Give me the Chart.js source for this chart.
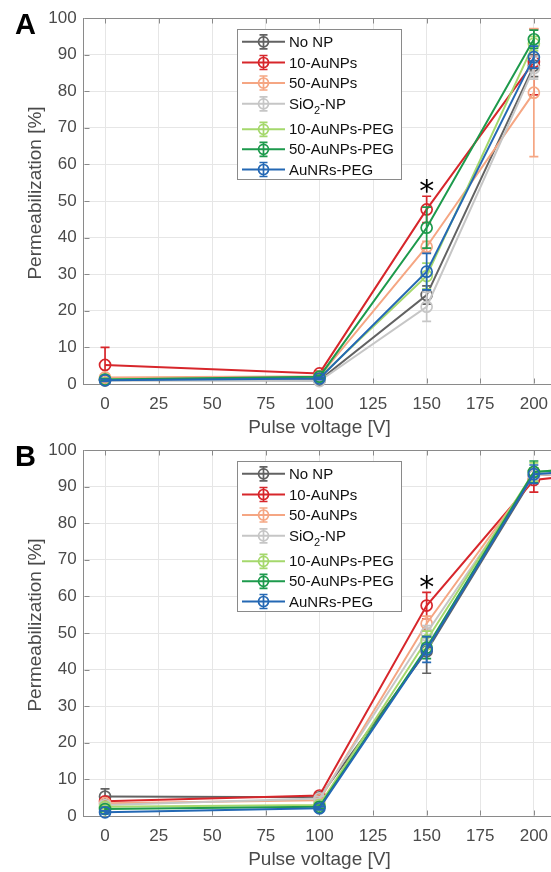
<!DOCTYPE html>
<html><head><meta charset="utf-8">
<script src="https://cdn.jsdelivr.net/npm/chart.js@4.4.0/dist/chart.umd.min.js"></script>
<style>
html,body{margin:0;padding:0;background:#fff;width:551px;height:872px;overflow:hidden;position:relative}
.wrap{position:absolute;left:0;width:590px;height:440px}
canvas{display:block}
</style></head><body>
<div class="wrap" style="top:0"><canvas id="cA" width="590" height="440"></canvas></div>
<div class="wrap" style="top:432px"><canvas id="cB" width="590" height="440"></canvas></div>
<script>
// ---------- data ----------
const seriesNames = ['No NP','10-AuNPs','50-AuNPs','SiO2-NP','10-AuNPs-PEG','50-AuNPs-PEG','AuNRs-PEG'];
const seriesColors = ['#626262','#d7262b','#f5a683','#c6c6c6','#a5d86c','#1d9a4c','#2468b4'];
const xTickValues = [0,25,50,75,100,125,150,175,200];
const yTickValues = [0,10,20,30,40,50,60,70,80,90,100];
const xTitle = 'Pulse voltage [V]';
const yTitle = 'Permeabilization [%]';

// Panel A
const voltagesA = [0,100,150,200];
const A_noNP      = [1.0, 1.0, 24.3, 87.0];
const A_noNP_err  = [0.3, 0.4, 2.5, 3.0];
const A_au10      = [5.2, 2.9, 47.7, 88.0];
const A_au10_err  = [4.8, 0.6, 3.6, 9.0];
const A_au50      = [1.8, 2.1, 37.5, 79.6];
const A_au50_err  = [0.4, 0.5, 1.5, 17.5];
const A_sio2      = [1.2, 0.8, 21.1, 86.3];
const A_sio2_err  = [0.3, 0.3, 4.0, 3.0];
const A_au10peg     = [1.3, 1.8, 29.5, 93.0];
const A_au10peg_err = [0.3, 0.4, 3.5, 2.0];
const A_au50peg     = [1.2, 2.0, 42.7, 94.2];
const A_au50peg_err = [0.3, 0.4, 5.6, 2.5];
const A_aunr      = [1.0, 1.5, 30.7, 89.3];
const A_aunr_err  = [0.3, 0.3, 5.0, 3.0];
const A_starX = [150];
const A_starY = [54];

// Panel B
const voltagesB = [0,100,150,200,250];
const B_noNP      = [5.3, 5.1, 45.0, 93.0, 95.0];
const B_noNP_err  = [2.1, 0.6, 6.0, 2.0, 2.0];
const B_au10      = [4.0, 5.6, 57.5, 91.8, 95.0];
const B_au10_err  = [0.5, 0.5, 3.6, 3.3, 2.0];
const B_au50      = [3.5, 4.3, 52.6, 93.0, 95.5];
const B_au50_err  = [0.5, 0.5, 2.0, 2.0, 2.0];
const B_sio2      = [3.0, 4.8, 50.0, 93.0, 95.5];
const B_sio2_err  = [0.5, 0.5, 2.0, 2.0, 2.0];
const B_au10peg     = [2.5, 3.0, 48.0, 94.0, 96.0];
const B_au10peg_err = [0.5, 0.5, 2.5, 2.5, 2.0];
const B_au50peg     = [1.9, 2.5, 46.0, 94.0, 96.0];
const B_au50peg_err = [0.5, 0.5, 3.0, 3.0, 2.0];
const B_aunr      = [1.0, 2.1, 45.5, 93.4, 95.5];
const B_aunr_err  = [0.4, 0.4, 3.5, 2.5, 2.0];
const B_starX = [150];
const B_starY = [64];

// ---------- styling ----------
const FONT = "'Liberation Sans', Arial, Helvetica, sans-serif";
const TEXT_COLOR = '#4a4a4a';
const AXIS_COLOR = '#8a8a8a';
const GRID_COLOR = '#e6e6e6';
const legendRows = [12.3, 33, 53.5, 74.3, 99.8, 119.8, 140];

function makeDatasets(xs, series, errs) {
  return series.map((vals, i) => ({
    label: seriesNames[i],
    data: vals.map((v, j) => ({x: xs[j], y: v})),
    errors: errs[i],
    borderColor: seriesColors[i],
    pointBorderColor: seriesColors[i],
    backgroundColor: 'rgba(0,0,0,0)',
    pointBackgroundColor: 'rgba(0,0,0,0)',
    borderWidth: 2,
    pointRadius: 5.5,
    pointBorderWidth: 1.7,
    pointHoverRadius: 5.5,
    tension: 0,
    clip: false,
    order: series.length - i
  }));
}

const errorBarPlugin = {
  id: 'errbars',
  afterDatasetDraw(chart, args) {
    const ds = chart.data.datasets[args.index];
    if (!ds.errors) return;
    const ctx = chart.ctx, ys = chart.scales.y;
    ctx.save();
    ctx.strokeStyle = ds.borderColor;
    ctx.lineWidth = 1.7;
    args.meta.data.forEach((pt, i) => {
      const e = ds.errors[i];
      if (e == null) return;
      const v = ds.data[i].y;
      const yt = ys.getPixelForValue(v + e), yb = ys.getPixelForValue(v - e);
      const x = pt.x;
      ctx.beginPath();
      ctx.moveTo(x, yt); ctx.lineTo(x, yb);
      ctx.moveTo(x - 4.5, yt); ctx.lineTo(x + 4.5, yt);
      ctx.moveTo(x - 4.5, yb); ctx.lineTo(x + 4.5, yb);
      ctx.stroke();
    });
    ctx.restore();
  }
};

const boxPlugin = {
  id: 'box',
  beforeDatasetsDraw(chart) {
    const ctx = chart.ctx, a = chart.chartArea;
    const xs = chart.scales.x, ys = chart.scales.y;
    ctx.save();
    ctx.strokeStyle = AXIS_COLOR;
    ctx.lineWidth = 1;
    ctx.beginPath();
    const top = Math.round(a.top) + 0.5, bot = Math.round(a.bottom) - 0.5, left = Math.round(a.left) + 0.5;
    ctx.moveTo(left, top); ctx.lineTo(a.right + 40, top);
    xTickValues.forEach(v => {
      const x = Math.round(xs.getPixelForValue(v)) + 0.5;
      ctx.moveTo(x, bot); ctx.lineTo(x, bot - 5);
      ctx.moveTo(x, top); ctx.lineTo(x, top + 5);
    });
    yTickValues.forEach(v => {
      const y = Math.round(ys.getPixelForValue(v)) + 0.5;
      ctx.moveTo(left, y); ctx.lineTo(left + 5, y);
    });
    ctx.stroke();
    ctx.restore();
  }
};

function drawLabelWithSub(ctx, text, x, y) {
  if (text === 'SiO2-NP') {
    ctx.fillText('SiO', x, y);
    let w = ctx.measureText('SiO').width;
    ctx.save();
    ctx.font = '11px ' + FONT;
    ctx.fillText('2', x + w, y + 6);
    const w2 = ctx.measureText('2').width;
    ctx.restore();
    ctx.fillText('-NP', x + w + w2, y);
  } else {
    ctx.fillText(text, x, y);
  }
}

function makeOverlayPlugin(letter, starX, starY) {
  return {
    id: 'overlay',
    afterDraw(chart) {
      const ctx = chart.ctx, xs = chart.scales.x, ys = chart.scales.y;
      ctx.save();
      // y axis title
      ctx.save();
      ctx.translate(36, 193);
      ctx.rotate(-Math.PI / 2);
      ctx.font = '19px ' + FONT;
      ctx.fillStyle = TEXT_COLOR;
      ctx.textAlign = 'center';
      ctx.textBaseline = 'middle';
      ctx.fillText(yTitle, 0, 0);
      ctx.restore();
      // panel letter
      ctx.fillStyle = '#000';
      ctx.font = 'bold 29px ' + FONT;
      ctx.textBaseline = 'alphabetic';
      ctx.textAlign = 'left';
      ctx.fillText(letter, 15, 34);
      // asterisks
      ctx.font = "30px 'DejaVu Sans', sans-serif";
      starX.forEach((sx, i) => {
        const m = ctx.measureText('*');
        const px = xs.getPixelForValue(sx), py = ys.getPixelForValue(starY[i]);
        const cy = py + (m.actualBoundingBoxAscent - m.actualBoundingBoxDescent) / 2;
        ctx.textAlign = 'center';
        ctx.fillText('*', px, cy);
      });
      // legend
      const L = 237, T = 29.5, W = 164, H = 150;
      ctx.fillStyle = '#fff';
      ctx.fillRect(L, T, W, H);
      ctx.strokeStyle = AXIS_COLOR;
      ctx.lineWidth = 1;
      ctx.strokeRect(L + 0.5, T, W, H);
      ctx.font = '15px ' + FONT;
      ctx.textAlign = 'left';
      ctx.textBaseline = 'middle';
      seriesNames.forEach((name, i) => {
        const y = T + legendRows[i];
        const c = seriesColors[i];
        ctx.strokeStyle = c;
        ctx.lineWidth = 2;
        ctx.beginPath();
        ctx.moveTo(L + 5, y); ctx.lineTo(L + 48, y);
        ctx.stroke();
        ctx.lineWidth = 1.7;
        const mx = L + 26.5;
        ctx.beginPath();
        ctx.moveTo(mx, y - 7); ctx.lineTo(mx, y + 7);
        ctx.moveTo(mx - 4, y - 7); ctx.lineTo(mx + 4, y - 7);
        ctx.moveTo(mx - 4, y + 7); ctx.lineTo(mx + 4, y + 7);
        ctx.stroke();
        ctx.beginPath();
        ctx.arc(mx, y, 5, 0, Math.PI * 2);
        ctx.stroke();
        ctx.fillStyle = '#111';
        drawLabelWithSub(ctx, name, L + 52, y + 1);
      });
      ctx.restore();
    }
  };
}

function makeChart(id, letter, xs, series, errs, starX, starY) {
  return new Chart(document.getElementById(id), {
    type: 'line',
    data: { datasets: makeDatasets(xs, series, errs) },
    options: {
      responsive: false,
      animation: false,
      devicePixelRatio: 1,
      events: [],
      layout: { padding: { top: 18, right: 34.7, left: 0, bottom: 0 } },
      plugins: { legend: { display: false }, tooltip: { enabled: false } },
      scales: {
        x: {
          type: 'linear', min: -10, max: 210,
          afterBuildTicks: s => { s.ticks = xTickValues.map(v => ({ value: v })); },
          afterFit: s => { s.height = 56; },
          grid: { color: GRID_COLOR, drawTicks: false },
          border: { color: AXIS_COLOR, width: 1 },
          ticks: { font: { family: FONT, size: 17 }, color: TEXT_COLOR, padding: 10, maxRotation: 0, autoSkip: false },
          title: { display: true, text: xTitle, font: { family: FONT, size: 19 }, color: TEXT_COLOR, padding: { top: 0, bottom: 1 } }
        },
        y: {
          type: 'linear', min: 0, max: 100,
          afterBuildTicks: s => { s.ticks = yTickValues.map(v => ({ value: v })); },
          afterFit: s => { s.width = 83.6; },
          grid: { color: GRID_COLOR, drawTicks: false },
          border: { color: AXIS_COLOR, width: 1 },
          ticks: { font: { family: FONT, size: 17 }, color: TEXT_COLOR, padding: 7, autoSkip: false },
          title: { display: false }
        }
      }
    },
    plugins: [boxPlugin, errorBarPlugin, makeOverlayPlugin(letter, starX, starY)]
  });
}

makeChart('cA', 'A', voltagesA,
  [A_noNP, A_au10, A_au50, A_sio2, A_au10peg, A_au50peg, A_aunr],
  [A_noNP_err, A_au10_err, A_au50_err, A_sio2_err, A_au10peg_err, A_au50peg_err, A_aunr_err],
  A_starX, A_starY);
makeChart('cB', 'B', voltagesB,
  [B_noNP, B_au10, B_au50, B_sio2, B_au10peg, B_au50peg, B_aunr],
  [B_noNP_err, B_au10_err, B_au50_err, B_sio2_err, B_au10peg_err, B_au50peg_err, B_aunr_err],
  B_starX, B_starY);
</script>
</body></html>
